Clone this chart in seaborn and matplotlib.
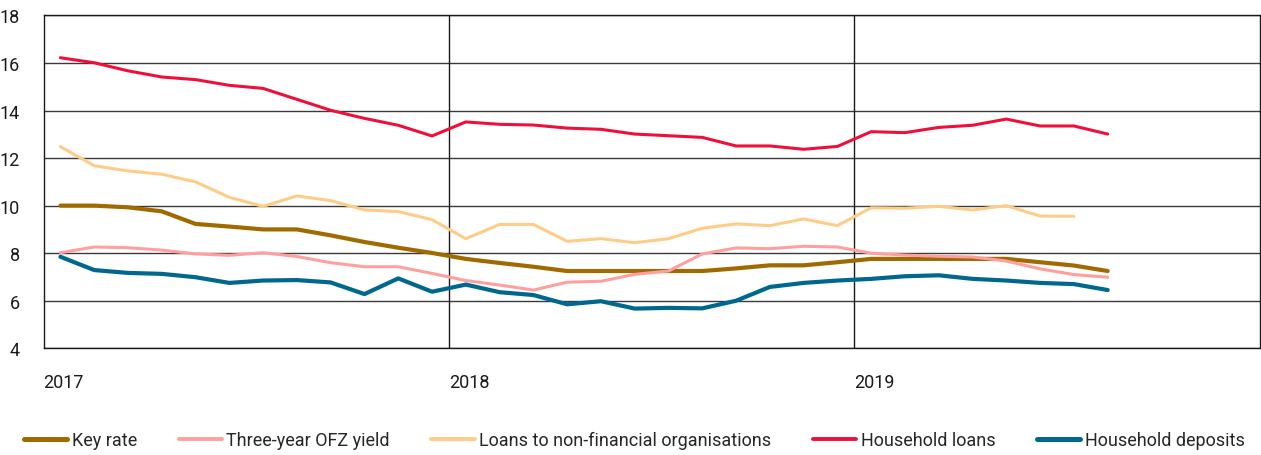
import numpy as np
import pandas as pd
import matplotlib
matplotlib.use("Agg")
import matplotlib.pyplot as plt
import seaborn as sns
from matplotlib.lines import Line2D

# Monthly observations, Jan 2017 onwards
start_year = 2017
key_rate = [10.0, 10.0, 9.93, 9.76, 9.23, 9.12, 9.0, 9.0, 8.75, 8.47, 8.23, 8.01,
            7.76, 7.59, 7.43, 7.25, 7.25, 7.25, 7.25, 7.25, 7.36, 7.49, 7.49, 7.62,
            7.76, 7.76, 7.76, 7.76, 7.76, 7.62, 7.48, 7.25]
ofz_yield = [8.02, 8.26, 8.23, 8.13, 7.97, 7.91, 8.02, 7.86, 7.60, 7.43, 7.43, 7.15,
             6.85, 6.66, 6.45, 6.78, 6.82, 7.11, 7.25, 7.97, 8.22, 8.19, 8.29, 8.26,
             8.0, 7.92, 7.87, 7.84, 7.67, 7.34, 7.10, 6.99]
loans_nfo = [12.48, 11.68, 11.46, 11.32, 11.0, 10.35, 9.97, 10.41, 10.21, 9.82, 9.75, 9.41,
             8.61, 9.21, 9.21, 8.50, 8.61, 8.44, 8.61, 9.05, 9.23, 9.16, 9.44, 9.16,
             9.91, 9.89, 9.97, 9.82, 10.0, 9.56, 9.55]
household_loans = [16.22, 16.01, 15.67, 15.41, 15.30, 15.06, 14.93, 14.47, 14.01, 13.67, 13.38, 12.93,
                   13.52, 13.42, 13.39, 13.26, 13.21, 13.01, 12.94, 12.87, 12.51, 12.51, 12.37, 12.49,
                   13.11, 13.07, 13.29, 13.38, 13.64, 13.35, 13.35, 13.01]
household_deposits = [7.85, 7.29, 7.17, 7.13, 6.99, 6.75, 6.85, 6.87, 6.77, 6.28, 6.94, 6.38,
                      6.68, 6.36, 6.24, 5.85, 5.98, 5.67, 5.70, 5.68, 6.0, 6.58, 6.75, 6.85,
                      6.92, 7.03, 7.07, 6.92, 6.85, 6.75, 6.70, 6.45]

series_names = ["Key rate", "Three-year OFZ yield", "Loans to non-financial organisations",
                "Household loans", "Household deposits"]
series_values = [key_rate, ofz_yield, loans_nfo, household_loans, household_deposits]
colors = ["#A16A00", "#FF9F9F", "#FFCC88", "#EE0F3A", "#00688F"]
widths = [3.0, 2.2, 2.2, 2.2, 3.0]
year_ticks = [2017, 2018, 2019]
y_ticks = [4, 6, 8, 10, 12, 14, 16, 18]

rows = []
for name, vals in zip(series_names, series_values):
    for i, v in enumerate(vals):
        rows.append({"date": start_year + (i + 0.5) / 12.0, "value": v, "series": name})
df = pd.DataFrame(rows)

sns.set_style("white")
plt.rcParams["font.family"] = ["Roboto", "DejaVu Sans"]

fig = plt.figure(figsize=(12.61, 4.56), dpi=100)
ax = fig.add_axes([0.0345, 0.234, 0.9645, 0.730])

ax.set_xlim(2017, 2020)
ax.set_ylim(4, 18)
for y in y_ticks:
    ax.axhline(y, color="#3a3a3a", lw=1.0, zorder=0)
for x in year_ticks[1:]:
    ax.axvline(x, color="#1a1a1a", lw=1.0, zorder=0)

sns.lineplot(data=df, x="date", y="value", hue="series", hue_order=series_names,
             palette=colors, ax=ax, legend=False, sort=True)
for line, w in zip(ax.get_lines()[-len(series_names):], widths):
    line.set_linewidth(w)
    line.set_solid_capstyle("round")

for s in ax.spines.values():
    s.set_visible(True)
    s.set_color("#1a1a1a")
    s.set_linewidth(1.0)

ax.set_yticks(y_ticks)
ax.set_yticklabels([str(v) for v in y_ticks], fontsize=13)
ax.set_xticks(year_ticks)
ax.set_xticklabels([str(v) for v in year_ticks], fontsize=13, ha="left")
ax.tick_params(axis="both", length=0, colors="#1a1a1a")
ax.tick_params(axis="y", pad=17)
ax.tick_params(axis="x", pad=18)
ax.set_xlabel("")
ax.set_ylabel("")

handles = [Line2D([0], [0], color=c, lw=w + 0.6) for c, w in zip(colors, widths)]
fig.legend(handles, series_names, loc="center", bbox_to_anchor=(0.503, 0.033), ncol=5,
           frameon=False, fontsize=13, handlelength=2.4, handletextpad=0.25,
           columnspacing=2.3)

fig.savefig("out.png", dpi=100)
